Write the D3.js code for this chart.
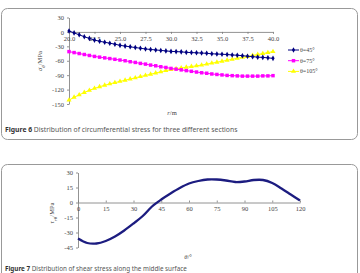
<!DOCTYPE html>
<html><head><meta charset="utf-8">
<script src="https://cdn.jsdelivr.net/npm/d3@7"></script>
<style>body{margin:0;background:#fff}svg{display:block}</style>
</head><body>
<svg id="c" width="360" height="273"></svg>
<script>
// ---- Figure 6 data ----
const radius = [20,20.5,21,21.5,22,22.5,23,23.5,24,24.5,25,25.5,26,26.5,27,27.5,28,28.5,29,29.5,30,30.5,31,31.5,32,32.5,33,33.5,34,34.5,35,35.5,36,36.5,37,37.5,38,38.5,39,39.5,40];
const s45 = [2,-2,-6,-10,-13.5,-17,-19.5,-21.5,-23.5,-25.5,-28,-29.5,-31,-32.5,-34,-35.5,-36.5,-37.5,-38.5,-39.5,-40.5,-41,-41.5,-42.5,-43,-43.5,-44,-44.5,-45.5,-46,-46.5,-47,-48,-48.5,-49.5,-50.5,-51.5,-52.5,-53,-54,-55];
const s75 = [-41,-43,-45,-47,-49,-51,-52.5,-54,-55.5,-57,-58.5,-60,-62,-63.5,-65.5,-67,-69,-70.5,-72.5,-74,-76,-77.5,-79,-80.5,-82,-83.5,-85,-86,-87.5,-88.5,-89.5,-90.5,-91,-91.5,-92,-92,-92,-92,-91.5,-91.5,-91];
const s105 = [-142,-136,-131,-126,-121.5,-117.5,-114,-111,-108,-105.5,-103,-100.5,-98,-95.5,-93,-90.5,-88,-85.5,-83,-80.5,-78.5,-76.5,-75,-73.5,-72,-70.5,-69,-67,-65,-63,-61,-59,-57,-55,-53,-51,-49,-47,-45,-43,-41];
const seriesNames = ["θ=45°","θ=75°","θ=105°"];
const xTicks6 = [20,22.5,25,27.5,30,32.5,35,37.5,40];
const yTicks6 = [30,0,-30,-60,-90,-120,-150];
// ---- Figure 7 data ----
const theta = [0,5,10,15,20,25,30,35,40,45,50,55,60,65,70,75,80,85,90,95,100,105,110,115,120];
const tau = [-36,-40.5,-41,-38.5,-34,-28,-21,-13.5,-4,3,9,14.5,19,21.5,23,23,22,20.5,21,22.5,22.5,19.5,14,8,2];
const xTicks7 = [0,15,30,45,60,75,90,105,120];
const yTicks7 = [30,15,0,-15,-30,-45];

const svg = d3.select("#c");
const serif = "'Liberation Serif','Times New Roman',serif";
const sans = "'Noto Sans','Open Sans',sans-serif";
const axisCol = "#777", txtCol = "#444";

// frames
svg.append("rect").attr("x",1.5).attr("y",8.5).attr("width",356).attr("height",131).attr("rx",6)
  .attr("fill","none").attr("stroke","#999").attr("stroke-width",1);
svg.append("rect").attr("x",1.5).attr("y",164.5).attr("width",356).attr("height",140).attr("rx",6)
  .attr("fill","none").attr("stroke","#999").attr("stroke-width",1);

function styleAxis(g){
  g.selectAll("path,line").attr("stroke",axisCol).attr("stroke-width",0.8);
  g.selectAll("text").attr("fill",txtCol).style("font-family",serif).style("font-size","6.5px");
}
const fmtInt = d => String(d);

// ---- Figure 6 ----
const x6 = d3.scaleLinear().domain([20,40]).range([69,273]);
const y6 = d3.scaleLinear().domain([30,-150]).range([17.5,104]);

svg.append("g").attr("transform",`translate(${x6(20)},0)`)
  .call(d3.axisLeft(y6).tickValues(yTicks6).tickFormat(fmtInt).tickSize(2).tickPadding(3).tickSizeOuter(0))
  .call(styleAxis);
svg.append("g").attr("transform",`translate(0,${y6(0)})`)
  .call(d3.axisBottom(x6).tickValues(xTicks6).tickFormat(d3.format(".1f")).tickSize(2).tickPadding(2).tickSizeOuter(0))
  .call(styleAxis);

const cols = ["#000080","#ff00ff","#ffff00"];
const data6 = [s45,s75,s105];
const line6 = d3.line().x((d,i)=>x6(radius[i])).y(d=>y6(d));
const sym = [d3.symbolDiamond, d3.symbolSquare, d3.symbolTriangle];
const symSize = [9, 12, 11];
[2,1,0].forEach(k=>{
  svg.append("path").datum(data6[k]).attr("d",line6).attr("fill","none").attr("stroke",cols[k]).attr("stroke-width",1);
  svg.append("g").selectAll("path").data(data6[k]).join("path")
    .attr("transform",(d,i)=>`translate(${x6(radius[i])},${y6(d)})`)
    .attr("d",d3.symbol().type(sym[k]).size(symSize[k])).attr("fill",cols[k]);
});

// legend
seriesNames.forEach((n,k)=>{
  const yy = 50 + k*10.7;
  svg.append("line").attr("x1",288).attr("x2",299).attr("y1",yy).attr("y2",yy).attr("stroke",cols[k]).attr("stroke-width",1);
  svg.append("path").attr("transform",`translate(293.5,${yy})`).attr("d",d3.symbol().type(sym[k]).size(symSize[k])).attr("fill",cols[k]);
  svg.append("text").attr("x",300).attr("y",yy+2).text(n).attr("fill",txtCol)
    .style("font-family",serif).style("font-size","6px");
});

// axis titles
const yt6 = svg.append("text").attr("transform","translate(42,61) rotate(-90)").attr("text-anchor","middle")
  .attr("fill",txtCol).style("font-family",serif).style("font-size","6.5px");
yt6.append("tspan").text("σ").style("font-style","italic");
yt6.append("tspan").text("θ").attr("baseline-shift","sub").style("font-size","5px").style("font-style","italic");
yt6.append("tspan").text("/MPa");
const xt6 = svg.append("text").attr("x",172).attr("y",115).attr("text-anchor","middle")
  .attr("fill",txtCol).style("font-family",serif).style("font-size","6.5px");
xt6.append("tspan").text("r").style("font-style","italic");
xt6.append("tspan").text("/m");

// caption
const cap6 = svg.append("text").attr("x",5).attr("y",131.5).style("font-family",sans).style("font-size","6.8px");
cap6.append("tspan").text("Figure 6").attr("font-weight","bold").attr("fill","#333");
cap6.append("tspan").text("  Distribution of circumferential stress for three different sections").attr("fill","#555");

// ---- Figure 7 ----
const x7 = d3.scaleLinear().domain([0,120]).range([78,300]);
const y7 = d3.scaleLinear().domain([30,-45]).range([172.5,247.5]);
svg.append("g").attr("transform",`translate(${x7(0)},0)`)
  .call(d3.axisLeft(y7).tickValues(yTicks7).tickFormat(fmtInt).tickSize(2).tickPadding(3).tickSizeOuter(0))
  .call(styleAxis);
svg.append("g").attr("transform",`translate(0,${y7(0)})`)
  .call(d3.axisBottom(x7).tickValues(xTicks7).tickFormat(fmtInt).tickSize(-2).tickPadding(4).tickSizeOuter(0))
  .call(styleAxis);

svg.append("path").datum(tau)
  .attr("d",d3.line().x((d,i)=>x7(theta[i])).y(d=>y7(d)).curve(d3.curveCatmullRom))
  .attr("fill","none").attr("stroke","#1c1c80").attr("stroke-width",2.3);

const yt7 = svg.append("text").attr("transform","translate(54,213) rotate(-90)").attr("text-anchor","middle")
  .attr("fill",txtCol).style("font-family",serif).style("font-size","6.5px");
yt7.append("tspan").text("τ").style("font-style","italic");
yt7.append("tspan").text("rθ").attr("baseline-shift","sub").style("font-size","5px").style("font-style","italic");
yt7.append("tspan").text("/MPa");
const xt7 = svg.append("text").attr("x",188).attr("y",259).attr("text-anchor","middle")
  .attr("fill",txtCol).style("font-family",serif).style("font-size","6.5px");
xt7.append("tspan").text("θ").style("font-style","italic");
xt7.append("tspan").text("/°");

const cap7 = svg.append("text").attr("x",5).attr("y",271).style("font-family",sans).style("font-size","6.3px");
cap7.append("tspan").text("Figure 7").attr("font-weight","bold").attr("fill","#333");
cap7.append("tspan").text("  Distribution of shear stress along the middle surface").attr("fill","#555");
</script>
</body></html>
